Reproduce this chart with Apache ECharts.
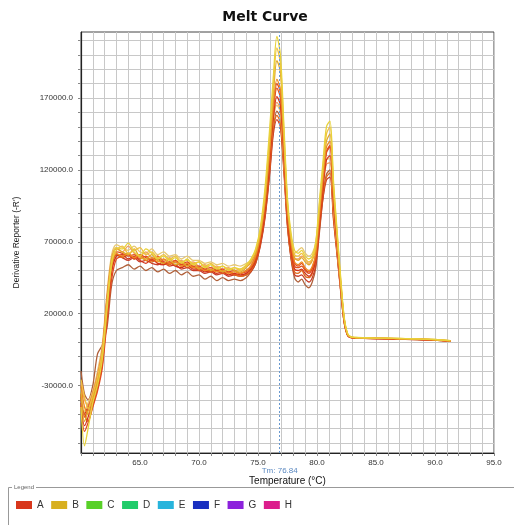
<!DOCTYPE html>
<html><head><meta charset="utf-8">
<script src="https://cdn.jsdelivr.net/npm/echarts@6/dist/echarts.min.js"></script>
<style>html,body{margin:0;padding:0;background:#fff}#c{width:514px;height:525px}</style>
</head><body><div id="c"></div>
<script>
// Temperatures (°C) shared by all wells
const temperatures = [60.0,60.3,60.6,61.0,61.4,61.8,62.2,62.6,63.0,63.5,64.0,64.5,65.0,65.5,66.0,66.5,67.0,67.5,68.0,68.5,69.0,69.5,70.0,70.5,71.0,71.5,72.0,72.5,73.0,73.5,74.0,74.4,74.8,75.2,75.6,76.0,76.3,76.6,76.9,77.2,77.5,77.8,78.1,78.4,78.7,79.0,79.3,79.6,79.9,80.2,80.5,80.8,81.1,81.4,81.7,82.0,82.3,82.6,82.9,83.3,84.0,85.0,86.0,87.0,88.0,89.0,90.0,91.3];

// Derivative reporter values, in thousands
const wellB1 = [-45,-72,-60,-42,-30,-12,22,55,66,65,69,63,60,65,62,58,60,57,59,55,58,54,56,52,54,51,53,50,52,51,54,58,65,80,108,150,185,213,200,150,100,76,64,62,64,60,58,60,70,98,125,150,154,112,78,46,18,6,3.8,3.4,3.2,3.0,2.9,2.7,2.5,2.3,2.0,1.2];
const wellB2 = [-35,-55,-48,-38,-26,-8,28,58,65,63,61,65,59,58,61,57,55,58,54,56,53,55,51,53,50,52,49,51,50,49,52,56,62,76,100,138,172,196,188,142,95,72,59,57,59,56,54,57,66,92,118,140,145,106,74,43,17,5.5,3.6,3.3,3.1,2.9,2.8,2.6,2.4,2.2,1.9,1.1];
const wellB3 = [-28,-40,-44,-34,-22,-4,32,59,66,63,67,62,60,63,59,60,57,59,56,57,55,56,53,54,52,53,51,52,50,51,53,55,61,74,96,128,155,167,162,127,88,68,58,58,60,58,55,58,66,88,110,124,125,93,66,39,15,5,3.5,3.2,3.0,2.8,2.7,2.5,2.3,2.1,1.8,1.0];
const wellB4 = [-32,-48,-42,-34,-20,-2,34,61,68,66,64,67,63,62,65,61,63,60,61,58,60,57,57,55,56,54,55,53,54,53,55,57,63,76,98,130,156,165,160,126,88,70,62,64,66,62,60,62,70,92,114,127,128,95,67,40,15,5,3.6,3.3,3.1,2.9,2.8,2.6,2.4,2.2,1.9,1.1];
const wellB5 = [-26,-38,-46,-36,-24,-6,28,56,64,67,62,64,66,61,63,59,61,58,60,56,57,55,56,53,55,52,53,51,52,50,53,57,64,78,104,145,178,205,194,146,97,74,61,60,62,58,56,58,68,95,121,145,150,109,76,44,17,5.8,3.7,3.4,3.2,3.0,2.9,2.7,2.5,2.3,2.0,1.2];
const wellA1 = [-30,-45,-50,-40,-28,-10,25,53,62,60,62,59,61,57,59,56,58,55,56,53,55,52,52,50,51,49,50,48,49,48,50,53,60,74,98,135,165,183,176,136,92,70,56,54,56,52,50,53,62,88,114,136,140,103,72,42,16,5.2,3.5,3.2,3.0,2.8,2.7,2.5,2.3,2.1,1.8,1.0];
const wellA2 = [-38,-52,-46,-36,-24,-6,30,56,63,62,60,61,58,60,57,58,55,56,54,55,52,53,50,51,49,50,48,49,47,48,49,52,58,72,95,130,160,177,170,132,88,66,53,52,53,50,48,51,60,85,110,132,136,100,70,41,16,5,3.4,3.1,2.9,2.8,2.6,2.4,2.2,2.0,1.7,0.9];
const wellA3 = [-42,-58,-52,-40,-30,-14,18,49,60,61,58,60,57,55,58,55,54,56,53,52,54,51,51,49,50,48,49,47,48,47,48,51,57,70,92,126,156,171,165,128,86,64,51,50,51,48,46,49,58,82,106,127,130,96,68,40,15,5,3.4,3.1,2.9,2.7,2.6,2.4,2.2,2.0,1.7,0.9];
const wellA4 = [-20,-36,-40,-30,-8,-2,10,40,50,52,54,51,53,50,52,49,51,48,50,47,49,46,47,44,46,43,45,43,44,43,45,49,55,68,88,120,148,161,156,122,82,58,45,42,44,40,38,42,52,76,100,117,120,89,63,37,14,4.8,3.4,3.1,2.9,2.7,2.5,2.3,2.1,1.9,1.6,0.8];
const wellA5 = [-40,-50,-55,-44,-32,-16,20,51,61,59,61,58,60,57,56,58,55,54,56,53,54,52,52,50,49,51,48,49,47,46,47,50,56,69,90,122,150,158,152,120,82,60,49,48,50,46,45,48,57,80,103,115,118,87,62,37,14,4.8,3.3,3.0,2.8,2.6,2.5,2.3,2.1,1.9,1.6,0.8];
const wellA6 = [-36,-50,-44,-37,-27,-10,24,53,61,59,57,59,56,57,55,54,56,53,54,51,52,50,50,48,49,47,48,46,47,46,47,49,55,67,87,118,145,155,150,118,80,59,47,46,47,44,42,45,54,78,100,113,115,85,61,36,14,4.7,3.2,3.0,2.8,2.6,2.4,2.2,2.0,1.8,1.5,0.7];
const wellA7 = [-44,-62,-56,-45,-34,-18,14,44,58,60,62,58,61,59,57,60,56,55,57,54,56,53,53,51,52,50,51,49,50,48,50,53,60,74,97,133,163,180,174,134,90,68,55,53,55,51,49,52,61,86,111,133,137,101,71,41,16,5,3.4,3.1,2.9,2.8,2.6,2.4,2.2,2.0,1.7,0.9];

const legendNames = ['A','B','C','D','E','F','G','H'];
const legendColors = ['#d8371c','#d8b020','#58d028','#20cc6a','#28b4dc','#1a30c0','#8c22dc','#dc1e8c'];
const yTickValues = [-70000,-60000,-50000,-40000,-30000,-20000,-10000,0,10000,20000,30000,40000,50000,60000,70000,80000,90000,100000,110000,120000,130000,140000,150000,160000,170000,180000,190000,200000,210000];
const yLabelValues = [-30000,20000,70000,120000,170000];
const xLabelValues = [65,70,75,80,85,90,95];
const tmValue = 76.84;

const wells = [
  {name:'A', color:'#b0603a', values:wellA4},
  {name:'A', color:'#c83c28', values:wellA6},
  {name:'A', color:'#e06a1a', values:wellA5},
  {name:'B', color:'#e8c870', values:wellB4},
  {name:'B', color:'#f0a060', values:wellB3},
  {name:'A', color:'#d2321a', values:wellA3},
  {name:'A', color:'#e0501c', values:wellA2},
  {name:'A', color:'#e24a20', values:wellA7},
  {name:'A', color:'#ee8a22', values:wellA1},
  {name:'B', color:'#e0a82a', values:wellB2},
  {name:'B', color:'#f0c040', values:wellB5},
  {name:'B', color:'#e8d23a', values:wellB1}
];

const series = wells.map((w, i) => ({
  name: w.name, type: 'line', smooth: 0.3, symbol: 'none', silent: true,
  lineStyle: {width: 1.3, color: w.color}, itemStyle: {color: w.color},
  data: temperatures.map((t, k) => [t, w.values[k] * 1000]),
  z: 3,
  markLine: i === wells.length - 1 ? {
    symbol: 'none', silent: true, label: {show: false},
    lineStyle: {color: '#6a9ad0', type: [2, 2], width: 1},
    data: [{xAxis: tmValue}]
  } : undefined
}));
['C','D','E','F','G','H'].forEach(n => series.push({name: n, type: 'line', data: []}));

const chart = echarts.init(document.getElementById('c'));
chart.setOption({
  animation: false,
  backgroundColor: '#fff',
  color: legendColors,
  grid: {left: 81, top: 32, width: 413, height: 421, show: true, borderColor: '#444', borderWidth: 1, backgroundColor: '#fff'},
  xAxis: {
    type: 'value', min: 60, max: 95, interval: 1,
    name: 'Temperature (°C)', nameLocation: 'middle', nameGap: 23,
    nameTextStyle: {fontSize: 10, color: '#111', fontFamily: 'Liberation Sans'},
    axisLine: {onZero: false, lineStyle: {color: '#222', width: 1.2}},
    axisTick: {length: 3, lineStyle: {color: '#888'}},
    axisLabel: {customValues: xLabelValues, fontSize: 8, color: '#333', margin: 6, fontFamily: 'Liberation Sans', formatter: v => v.toFixed(1)},
    splitLine: {show: true, lineStyle: {color: '#c8c8c8', width: 1}}
  },
  yAxis: {
    type: 'value', min: -77000, max: 216000,
    name: "Derivative Reporter (-R')", nameLocation: 'middle', nameGap: 60,
    nameTextStyle: {fontSize: 8.5, color: '#222', fontFamily: "'Liberation Sans Narrow', 'Liberation Sans', sans-serif"},
    axisLine: {show: true, onZero: false, lineStyle: {color: '#222', width: 1.2}},
    axisTick: {show: true, customValues: yTickValues, length: 3, lineStyle: {color: '#888'}},
    axisLabel: {customValues: yLabelValues, fontSize: 8, color: '#333', margin: 8, fontFamily: 'Liberation Sans', formatter: v => v.toFixed(1)},
    splitLine: {show: true, lineStyle: {color: '#c8c8c8', width: 1}}
  },
  legend: {
    data: legendNames.map((n, i) => ({name: n, itemStyle: {color: legendColors[i]}})),
    left: 11, top: 495, orient: 'horizontal', icon: 'rect',
    itemWidth: 16, itemHeight: 8, itemGap: 7.5, selectedMode: false,
    textStyle: {fontSize: 10, color: '#333', fontFamily: 'Liberation Sans', padding: [0, 0, 0, 0]}
  },
  series: series
});

const tmPx = chart.convertToPixel({gridIndex: 0}, [tmValue, -77000]);
chart.setOption({
  graphic: [
    {type: 'text', x: 265, y: 17, silent: true, style: {text: 'Melt Curve', font: 'bold 14px "DejaVu Sans", sans-serif', fill: '#111', align: 'center', verticalAlign: 'middle'}},
    {type: 'text', x: tmPx[0], y: tmPx[1] + 18, silent: true, style: {text: 'Tm: ' + tmValue.toFixed(2), font: '8px "Liberation Sans", sans-serif', fill: '#5a88c0', align: 'center', verticalAlign: 'middle'}},
    {type: 'rect', silent: true, shape: {x: 8.5, y: 487.5, width: 600, height: 80}, style: {fill: 'none', stroke: '#999', lineWidth: 1}},
    {type: 'text', x: 12, y: 487.5, silent: true, style: {text: 'Legend', font: '6px "Liberation Sans", sans-serif', fill: '#666', verticalAlign: 'middle', backgroundColor: '#fff', padding: [0, 2]}}
  ]
});
</script></body></html>
